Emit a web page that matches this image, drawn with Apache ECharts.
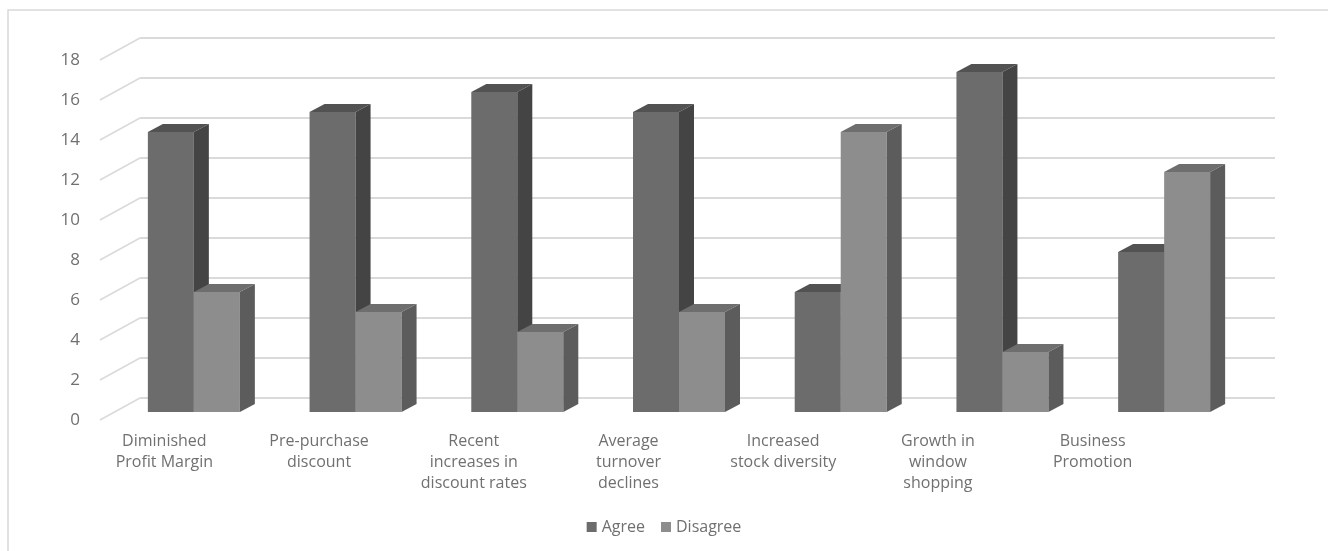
<!DOCTYPE html>
<html lang="en">
<head>
    <meta charset="UTF-8">
    <title>Agree / Disagree</title>
    <script src="https://cdn.jsdelivr.net/npm/echarts@6/dist/echarts.min.js"></script>
</head>
<body style="margin:0;background:#fff">
<div id="main" style="width: 1328px;height: 551px"></div>
</body>

<script>
    var categories = ["Diminished\nProfit Margin", "Pre-purchase\ndiscount", "Recent\nincreases in\ndiscount rates",
        "Average\nturnover\ndeclines", "Increased\nstock diversity", "Growth in\nwindow\nshopping", "Business\nPromotion"];
    var agree = [14, 15, 16, 15, 6, 17, 8];
    var disagree = [6, 5, 4, 5, 14, 3, 12];
    var yTicks = [0, 2, 4, 6, 8, 10, 12, 14, 16, 18];

    var font = '"Open Sans", sans-serif';
    var depthX = 15, depthY = 8;   // 3d offset of the bars
    var wallX = 40, wallY = 22;    // offset of the back wall

    var myChart = echarts.init(document.getElementById('main'));

    // front, top, side colours for each series
    var shades = [
        ['#6c6c6c', '#525252', '#444444'],
        ['#8d8d8d', '#6e6e6e', '#5c5c5c']
    ];

    function barItem(s) {
        return function (params, api) {
            var i = api.value(0), v = api.value(1);
            var top = api.coord([i, v]);
            var base = api.coord([i, 0]);
            var w = 46;
            var x = top[0] - w + s * w;
            var y = top[1], b = base[1];
            var c = shades[s];
            return {
                type: 'group',
                children: [
                    {type: 'rect', shape: {x: x, y: y, width: w, height: b - y}, style: {fill: c[0]}},
                    {type: 'polygon', shape: {points: [[x, y], [x + depthX, y - depthY], [x + w + depthX, y - depthY], [x + w, y]]}, style: {fill: c[1]}},
                    {type: 'polygon', shape: {points: [[x + w, y], [x + w + depthX, y - depthY], [x + w + depthX, b - depthY], [x + w, b]]}, style: {fill: c[2]}}
                ]
            };
        };
    }

    var option = {
        animation: false,
        graphic: [{
            type: 'rect',
            shape: {x: 8, y: 10, width: 1340, height: 560},
            style: {fill: 'none', stroke: '#d9d9d9', lineWidth: 1.5},
            silent: true
        }],
        legend: {
            data: ['Agree', 'Disagree'],
            left: 'center',
            top: 514,
            icon: 'rect',
            itemWidth: 10,
            itemHeight: 10,
            itemGap: 16,
            selectedMode: false,
            textStyle: {fontFamily: font, fontSize: 16, color: '#707070'}
        },
        grid: [
            // back wall
            {left: 140, right: 53, top: 38, bottom: 153},
            // y labels on the front plane
            {left: 100, right: 93, top: 60, bottom: 131},
            // bars
            {left: 113, right: 83, top: 52, bottom: 139},
            // category labels
            {left: 87, right: 158, top: 60, bottom: 131}
        ],
        xAxis: [
            {gridIndex: 0, type: 'category', data: categories, show: false},
            {gridIndex: 1, type: 'category', data: categories, show: false},
            {gridIndex: 2, type: 'category', data: categories, show: false},
            {
                gridIndex: 3, type: 'category', data: categories,
                axisLine: {show: false}, axisTick: {show: false},
                axisLabel: {interval: 0, margin: 11, fontFamily: font, fontSize: 16, lineHeight: 21, color: '#707070'}
            }
        ],
        yAxis: [
            {
                gridIndex: 0, type: 'value', min: 0, max: 18, interval: 2,
                axisLabel: {show: false}, axisLine: {show: false}, axisTick: {show: false},
                splitLine: {lineStyle: {color: '#dadada', width: 2}}
            },
            {
                gridIndex: 1, type: 'value', min: 0, max: 18, interval: 2,
                axisLine: {show: false}, axisTick: {show: false}, splitLine: {show: false},
                axisLabel: {margin: 20, fontFamily: font, fontSize: 17, color: '#707070'}
            },
            {gridIndex: 2, type: 'value', min: 0, max: 18, show: false, splitLine: {show: false}},
            {gridIndex: 3, type: 'value', min: 0, max: 18, show: false, splitLine: {show: false}}
        ],
        series: [
            {
                name: 'wall',
                type: 'custom',
                xAxisIndex: 0,
                yAxisIndex: 0,
                silent: true,
                clip: false,
                data: yTicks.map(function (v) { return [0, v]; }),
                renderItem: function (params, api) {
                    var y = api.coord([0, api.value(1)])[1];
                    var x0 = params.coordSys.x;
                    return {
                        type: 'line',
                        shape: {x1: x0 - wallX, y1: y + wallY, x2: x0, y2: y},
                        style: {stroke: '#dadada', lineWidth: 1.5}
                    };
                }
            },
            {
                name: 'Agree',
                type: 'custom',
                xAxisIndex: 2,
                yAxisIndex: 2,
                clip: false,
                itemStyle: {color: shades[0][0]},
                data: agree.map(function (v, i) { return [i, v]; }),
                renderItem: barItem(0)
            },
            {
                name: 'Disagree',
                type: 'custom',
                xAxisIndex: 2,
                yAxisIndex: 2,
                clip: false,
                itemStyle: {color: shades[1][0]},
                data: disagree.map(function (v, i) { return [i, v]; }),
                renderItem: barItem(1)
            }
        ]
    };

    myChart.setOption(option);
</script>
</html>
